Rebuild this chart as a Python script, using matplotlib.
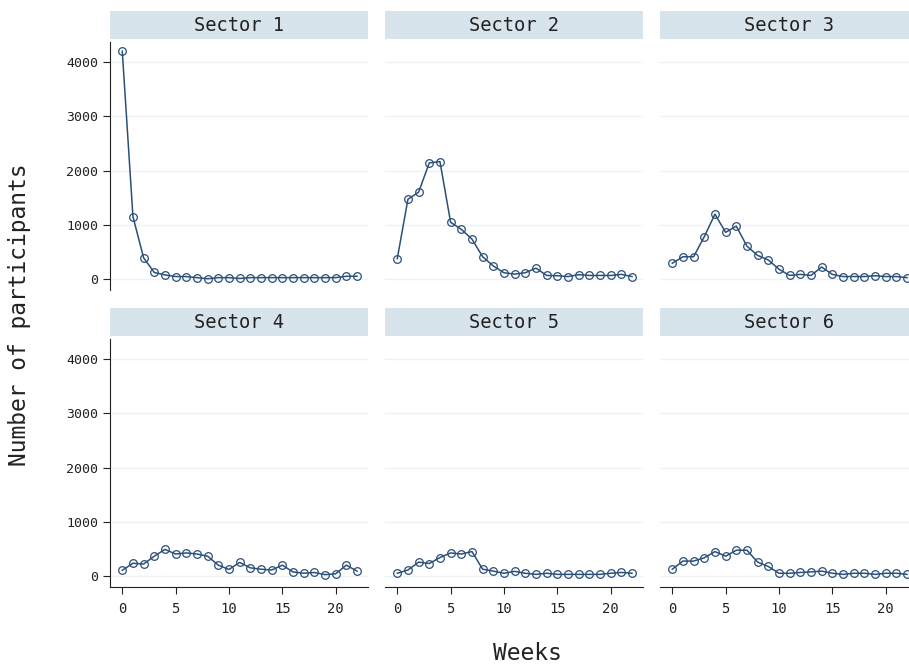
import matplotlib
matplotlib.use("Agg")
import matplotlib.pyplot as plt
from matplotlib.patches import Rectangle

plt.rcParams['font.family'] = ['DejaVu Sans Mono']

# settimane
weeks = list(range(23))

# partecipanti per settore
sector1 = [4200, 1150, 390, 120, 75, 45, 45, 25, 5, 25, 25, 10, 25, 25, 25, 25, 25, 25, 25, 25, 25, 50, 50]
sector2 = [375, 1470, 1600, 2140, 2165, 1045, 915, 735, 410, 240, 115, 90, 115, 200, 65, 60, 45, 80, 65, 65, 65, 85, 45]
sector3 = [290, 410, 410, 780, 1195, 860, 975, 605, 435, 350, 180, 65, 85, 65, 220, 85, 45, 45, 45, 60, 45, 45, 25]
sector4 = [105, 235, 220, 365, 490, 405, 425, 405, 365, 200, 120, 250, 150, 125, 110, 200, 75, 50, 65, 25, 40, 200, 90]
sector5 = [50, 110, 255, 230, 340, 425, 405, 450, 125, 90, 50, 85, 50, 30, 50, 30, 30, 30, 30, 30, 50, 65, 50]
sector6 = [125, 275, 275, 335, 450, 365, 475, 475, 255, 175, 50, 50, 65, 75, 90, 50, 30, 50, 50, 30, 50, 50, 30]

titles = ["Sector 1", "Sector 2", "Sector 3", "Sector 4", "Sector 5", "Sector 6"]
series = [sector1, sector2, sector3, sector4, sector5, sector6]

W, H = 909, 664
fig = plt.figure(figsize=(W / 100, H / 100), dpi=100)

lefts = [110, 385, 660]
tops = [42, 339]
pw, ph = 258, 248
line_col = "#2b4f78"

for i, (title, vals) in enumerate(zip(titles, series)):
    r, c = divmod(i, 3)
    ax = fig.add_axes([lefts[c] / W, 1 - (tops[r] + ph) / H, pw / W, ph / H])
    ax.plot(weeks, vals, color=line_col, lw=1.1, marker="o", ms=5.5,
            mfc="none", mec=line_col, mew=0.9)
    ax.set_xlim(-1.15, 23.03)
    ax.set_ylim(-203, 4369)
    ax.set_yticks([0, 1000, 2000, 3000, 4000])
    ax.set_xticks([0, 5, 10, 15, 20])
    ax.grid(axis="y", color="#edf2f5", lw=1)
    ax.set_axisbelow(True)
    for s in ["top", "right"]:
        ax.spines[s].set_visible(False)
    ax.spines["left"].set_visible(c == 0)
    ax.spines["bottom"].set_visible(r == 1)
    ax.spines["left"].set_color("#222222")
    ax.spines["bottom"].set_color("#222222")
    ax.tick_params(axis="y", left=(c == 0), labelleft=(c == 0), labelsize=9.5,
                   colors="#222222", length=5)
    ax.tick_params(axis="x", bottom=(r == 1), labelbottom=(r == 1), labelsize=10,
                   colors="#222222", length=5, pad=6)
    # striscia del titolo
    ax.add_patch(Rectangle((0, 1.012), 1, 0.113, transform=ax.transAxes,
                           facecolor="#d8e4ec", edgecolor="none", clip_on=False))
    ax.text(0.5, 1.068, title, transform=ax.transAxes, ha="center", va="center",
            fontsize=13.5, color="#222222")

fig.text(20 / W, 1 - 315 / H, "Number of participants", rotation=90,
         ha="center", va="center", fontsize=16.5, color="#222222")
fig.text(527 / W, 1 - 654 / H, "Weeks", ha="center", va="center",
         fontsize=16.5, color="#222222")

fig.savefig("out.png", dpi=100)
